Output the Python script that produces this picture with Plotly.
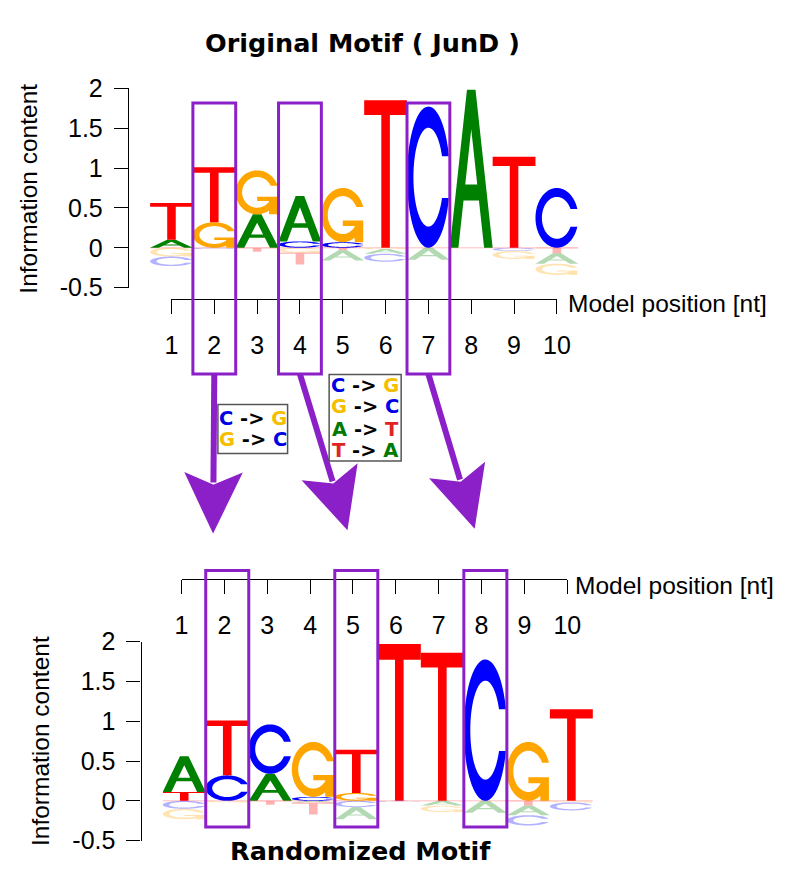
import numpy as np
import plotly.graph_objects as go

W, H = 785, 875

# ---------------------------------------------------------------- data
positions = list(range(1, 11))
position_labels = [str(p) for p in positions]
ic_ticks = [-0.5, 0, 0.5, 1, 1.5, 2]
ic_tick_labels = ["-0.5", "0", "0.5", "1", "1.5", "2"]

# Original motif (JunD): information content per base and position
# (negative values = under-represented bases, drawn faded below zero)
orig_A = [0.10, 0.00, 0.42, 0.57, -0.13, -0.06, -0.15, 1.98, 0.00, -0.13]
orig_C = [-0.12, -0.015, 0.00, 0.08, 0.07, -0.10, 1.77, 0.00, -0.04, 0.75]
orig_G = [-0.11, 0.32, 0.55, -0.06, 0.68, -0.015, 0.00, 0.00, -0.10, -0.14]
orig_T = [0.46, 0.69, -0.05, -0.15, -0.03, 1.85, 0.00, 0.00, 1.14, -0.07]

# Randomized motif
rand_A = [0.45, 0.00, 0.34, -0.02, -0.15, 0.00, -0.06, -0.15, -0.12, 0.00]
rand_C = [-0.10, 0.32, 0.62, 0.05, -0.08, -0.01, 0.00, 1.775, -0.13, -0.10]
rand_G = [-0.13, -0.02, 0.00, 0.69, 0.10, 0.00, -0.08, 0.00, 0.74, -0.02]
rand_T = [0.11, 0.69, -0.05, -0.15, 0.54, 1.97, 1.86, 0.00, -0.06, 1.15]

# highlighted (mutated) positions in each motif
orig_marked = [2, 4, 7]
rand_marked = [2, 5, 8]

# substitution legends
swap_pairs_short = [("C", "G"), ("G", "C")]
swap_pairs_long = [("C", "G"), ("G", "C"), ("A", "T"), ("T", "A")]

# ---------------------------------------------------------------- styles
LETTER_COLORS = {"A": "#008000", "C": "#0000FF", "G": "#FFA500", "T": "#FF0000"}
LEGEND_COLORS = {"A": "#007A00", "C": "#0000E6", "G": "#F5BE00", "T": "#E02424"}
PURPLE = "#8C20C8"
TICK_FONT = dict(family="Liberation Sans, Arial, sans-serif", size=25, color="black")
LABEL_FONT = dict(family="Liberation Sans, Arial, sans-serif", size=24.5, color="black")
TITLE_FONT = dict(family="DejaVu Sans, sans-serif", size=25.5, color="black")
LEGEND_FONT = dict(family="DejaVu Sans, sans-serif", size=19.5, color="black")

# panel geometry (pixels from the top-left of the page)
PANELS = {
    "orig": dict(xa="x", ya="y", letters_px=(147, 587), y2_px=76.7, ym05_px=282.7,
                 yaxis_x=124.3, xticks_px=(169, 565), xaxis_y=294,
                 box_px=(92, 372), ylabel=(22, 180), xlabel=(574, 299)),
    "rand": dict(xa="x2", ya="y2", letters_px=(160, 602), y2_px=648.3, ym05_px=854,
                 yaxis_x=137.3, xticks_px=(179.3, 575.7), xaxis_y=583.3,
                 box_px=(575, 840), ylabel=(35, 751), xlabel=(582, 590)),
}


def px_x(p):
    return p / W


def px_y(p):
    return 1 - p / H


# ---------------------------------------------------------------- glyphs
def _signed_area(xs, ys):
    return 0.5 * np.sum(xs * np.roll(ys, -1) - np.roll(xs, -1) * ys)


def _orient(xs, ys, ccw=True):
    xs, ys = np.asarray(xs, float), np.asarray(ys, float)
    if (_signed_area(xs, ys) > 0) != ccw:
        xs, ys = xs[::-1], ys[::-1]
    return xs, ys


def _c_polygon(n=36):
    a1 = np.linspace(0.3 + np.pi / 2, np.pi, n)
    a2 = np.linspace(np.pi, 1.5 * np.pi, n)
    xo = np.concatenate([0.5 + 0.5 * np.sin(a1), 0.5 + 0.5 * np.sin(a2)])
    yo = np.concatenate([0.5 + 0.5 * np.cos(a1), 0.5 + 0.5 * np.cos(a2)])
    cut = yo[0]
    x_out = np.concatenate([xo, xo[::-1]])
    y_out = np.concatenate([yo, 1 - yo[::-1]])
    a_start = np.arccos((cut - 0.5) / 0.35)
    b1 = np.linspace(a_start, np.pi, n)
    xi = np.concatenate([0.5 + 0.35 * np.sin(b1), 0.5 + 0.35 * np.sin(a2)])
    yi = np.concatenate([0.5 + 0.35 * np.cos(b1), 0.5 + 0.35 * np.cos(a2)])
    x_in = np.concatenate([xi, xi[::-1]])
    y_in = np.concatenate([yi, 1 - yi[::-1]])
    return np.concatenate([x_out, x_in[::-1]]), np.concatenate([y_out, y_in[::-1]])


def _glyphs():
    a_out = _orient([0, .4, .6, 1, .8, .68, .32, .2], [0, 1, 1, 0, 0, .3, .3, 0], True)
    a_hole = _orient([.36, .5, .64], [.4, .75, .4], False)
    t = _orient([0, 1, 1, .6, .6, .4, .4, 0], [1, 1, .9, .9, 0, 0, .9, .9], True)
    c = _orient(*_c_polygon(), True)
    r1 = 0.5 + 0.5 * np.cos(0.3)
    g_bar = _orient([r1, .5, .5, r1 - .2, r1 - .2, r1], [.4, .4, .3, .3, 0, 0], True)
    return {"A": [a_out, a_hole], "C": [c], "G": [c, g_bar], "T": [t]}


GLYPHS = _glyphs()


def glyph_path(letter, x0, y0, w, h):
    parts = []
    for xs, ys in GLYPHS[letter]:
        X = x0 + w * xs
        Y = y0 + h * ys
        parts.append("M" + "L".join(f"{a:.4f},{b:.5f}" for a, b in zip(X, Y)) + "Z")
    return " ".join(parts)


# ---------------------------------------------------------------- figure
fig = go.Figure()
shapes = []
annotations = []


def letter_shapes(panel, A, C, G, T):
    xa, ya = panel["xa"], panel["ya"]
    out = []
    for i, pos in enumerate(positions):
        vals = {"A": A[i], "C": C[i], "G": G[i], "T": T[i]}
        pos_stack = sorted([(v, k) for k, v in vals.items() if v > 0])
        neg_stack = sorted([(-v, k) for k, v in vals.items() if v < 0])
        base = 0.0
        for v, k in pos_stack:
            out.append(dict(type="path", xref=xa, yref=ya, layer="above",
                            path=glyph_path(k, pos - 0.5, base, 1.0, v),
                            fillcolor=LETTER_COLORS[k], line=dict(width=0),
                            fillrule="nonzero"))
            base += v
        base = 0.0
        for v, k in neg_stack:
            base -= v
            out.append(dict(type="path", xref=xa, yref=ya, layer="above",
                            path=glyph_path(k, pos - 0.5, base, 1.0, v),
                            fillcolor=LETTER_COLORS[k], opacity=0.3,
                            line=dict(width=0), fillrule="nonzero"))
    # faint baseline at zero
    out.insert(0, dict(type="line", xref=xa, yref=ya, x0=0.5, x1=10.5, y0=0, y1=0,
                       line=dict(color="rgba(255,80,80,0.25)", width=1.5)))
    return out


def col_edge_px(panel, value):
    a, b = panel["letters_px"]
    return a + (value - 0.5) / 10.0 * (b - a)


axis_common = dict(showgrid=False, zeroline=False, fixedrange=True)

layout_axes = {}
for n, (key, (A, C, G, T)) in enumerate(
        [("orig", (orig_A, orig_C, orig_G, orig_T)),
         ("rand", (rand_A, rand_C, rand_G, rand_T))]):
    p = PANELS[key]
    xa_name = "xaxis" if p["xa"] == "x" else "xaxis" + p["xa"][1:]
    ya_name = "yaxis" if p["ya"] == "y" else "yaxis" + p["ya"][1:]
    ydom = [px_y(p["ym05_px"]), px_y(p["y2_px"])]
    layout_axes[xa_name] = dict(domain=[px_x(p["letters_px"][0]), px_x(p["letters_px"][1])],
                                range=[0.5, 10.5], visible=False, anchor=p["ya"], **axis_common)
    layout_axes[ya_name] = dict(domain=ydom, range=[-0.5, 2], anchor="free",
                                position=px_x(p["yaxis_x"]), showline=True,
                                linecolor="black", linewidth=1.4, ticks="outside",
                                ticklen=14, tickwidth=1.4, tickcolor="black",
                                tickvals=ic_ticks, ticktext=ic_tick_labels,
                                tickfont=TICK_FONT, ticklabelstandoff=6, **axis_common)
    # separate position axis (line spans first to last tick)
    k = 3 + n
    layout_axes[f"xaxis{k}"] = dict(domain=[px_x(p["xticks_px"][0]), px_x(p["xticks_px"][1])],
                                    range=[1, 10], anchor="free", position=px_y(p["xaxis_y"]),
                                    side="bottom", showline=True, linecolor="black",
                                    linewidth=1.4, ticks="outside", ticklen=14, tickwidth=1.4,
                                    tickcolor="black", tickvals=positions,
                                    ticktext=position_labels, tickfont=TICK_FONT,
                                    ticklabelstandoff=10, **axis_common)
    layout_axes[f"yaxis{k}"] = dict(domain=ydom, range=[0, 1], visible=False,
                                    anchor=f"x{k}", **axis_common)
    for xa, ya in [(p["xa"], p["ya"]), (f"x{k}", f"y{k}")]:
        fig.add_trace(go.Scatter(x=[None], y=[None], xaxis=xa, yaxis=ya,
                                 showlegend=False, hoverinfo="skip"))

    shapes.extend(letter_shapes(p, A, C, G, T))

    # axis titles
    annotations.append(dict(text="Information content", textangle=-90, showarrow=False,
                            xref="paper", yref="paper", x=px_x(p["ylabel"][0]),
                            y=px_y(p["ylabel"][1]), xanchor="center", yanchor="middle",
                            font=LABEL_FONT))
    annotations.append(dict(text="Model position [nt]", showarrow=False,
                            xref="paper", yref="paper", x=px_x(p["xlabel"][0]),
                            y=px_y(p["xlabel"][1]), xanchor="left", yanchor="middle",
                            font=LABEL_FONT))

# highlight boxes around mutated columns
box_centers = {}
for key, marked in [("orig", orig_marked), ("rand", rand_marked)]:
    p = PANELS[key]
    top, bot = p["box_px"]
    for m in marked:
        x0 = col_edge_px(p, m - 0.5)
        x1 = col_edge_px(p, m + 0.5)
        shapes.append(dict(type="rect", xref="paper", yref="paper",
                           x0=px_x(x0), x1=px_x(x1), y0=px_y(bot), y1=px_y(top),
                           line=dict(color=PURPLE, width=3), fillcolor="rgba(0,0,0,0)"))
        box_centers[(key, m)] = ((x0 + x1) / 2, bot)

# arrows from original boxes down toward the randomized motif
arrow_tips = [(211.7, 535), (349.3, 531.7), (480, 530)]
for m, (tx, ty) in zip(orig_marked, arrow_tips):
    sx, sy = box_centers[("orig", m)]
    d = np.array([tx - sx, ty - sy])
    d = d / np.linalg.norm(d)
    nrm = np.array([d[1], -d[0]])
    tip = np.array([tx, ty])
    notch = tip - 48 * d
    w1 = tip - 60 * d + 28.5 * nrm
    w2 = tip - 60 * d - 28.5 * nrm
    shapes.append(dict(type="line", xref="paper", yref="paper",
                       x0=px_x(sx), y0=px_y(sy), x1=px_x(notch[0] - 3 * d[0]),
                       y1=px_y(notch[1] - 3 * d[1]), line=dict(color=PURPLE, width=6)))
    pts = [tip, w1, notch, w2]
    path = "M" + "L".join(f"{px_x(q[0]):.5f},{px_y(q[1]):.5f}" for q in pts) + "Z"
    shapes.append(dict(type="path", xref="paper", yref="paper", path=path,
                       fillcolor=PURPLE, line=dict(color=PURPLE, width=1.5)))


# substitution legend boxes
def swap_text(a, b):
    return (f"<b><span style='color:{LEGEND_COLORS[a]}'>{a}</span> -&gt; "
            f"<span style='color:{LEGEND_COLORS[b]}'>{b}</span></b>")


legend_boxes = [
    (swap_pairs_short, (216.7, 403.3, 288.3, 454.0), [418.3, 440.0]),
    (swap_pairs_long, (331.0, 372.3, 405.0, 461.7), [384.0, 405.7, 429.0, 450.7]),
]
for pairs, (bx0, by0, bx1, by1), line_ys in legend_boxes:
    shapes.append(dict(type="rect", xref="paper", yref="paper",
                       x0=px_x(bx0), x1=px_x(bx1), y0=px_y(by1), y1=px_y(by0),
                       line=dict(color="#555555", width=1.5), fillcolor="white"))
    cx = (bx0 + bx1) / 2
    for (a, b), ly in zip(pairs, line_ys):
        annotations.append(dict(text=swap_text(a, b), showarrow=False, xref="paper",
                                yref="paper", x=px_x(cx), y=px_y(ly), xanchor="center",
                                yanchor="middle", font=LEGEND_FONT))

# panel titles
annotations.append(dict(text="<b>Original Motif ( JunD )</b>", showarrow=False,
                        xref="paper", yref="paper", x=px_x(365), y=px_y(30),
                        xanchor="center", yanchor="middle", font=TITLE_FONT))
annotations.append(dict(text="<b>Randomized Motif</b>", showarrow=False,
                        xref="paper", yref="paper", x=px_x(363), y=px_y(865),
                        xanchor="center", yanchor="middle", font=TITLE_FONT))

fig.update_layout(
    width=W, height=H, autosize=False,
    margin=dict(l=0, r=0, t=0, b=0),
    paper_bgcolor="white", plot_bgcolor="white",
    showlegend=False,
    shapes=shapes, annotations=annotations,
    **layout_axes,
)

fig.write_html("out.html")
